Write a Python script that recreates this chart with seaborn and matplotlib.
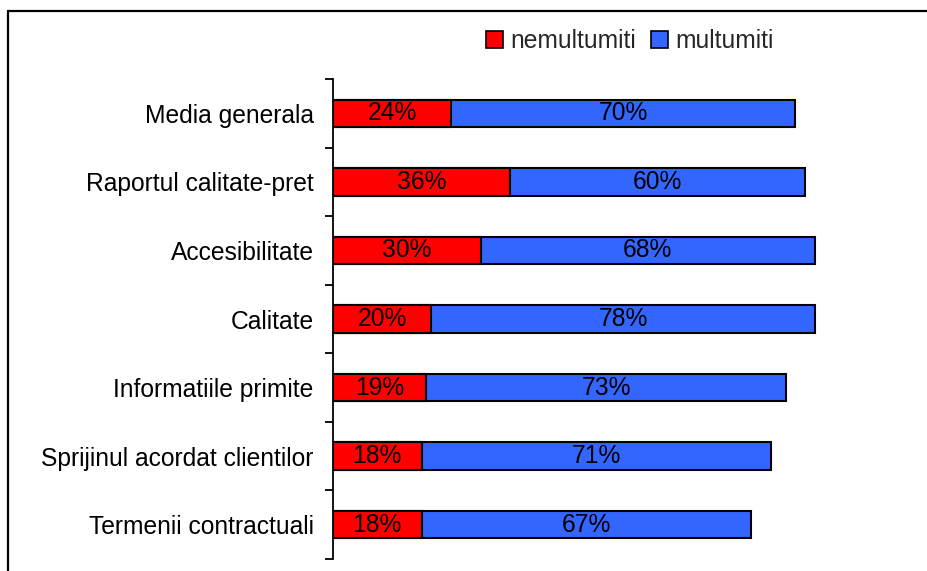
import matplotlib
matplotlib.use("Agg")
import matplotlib.pyplot as plt
import seaborn as sns
import pandas as pd
from matplotlib.lines import Line2D
from matplotlib.patches import Patch

categories = ["Media generala", "Raportul calitate-pret", "Accesibilitate", "Calitate",
              "Informatiile primite", "Sprijinul acordat clientilor", "Termenii contractuali"]
nemultumiti = [24, 36, 30, 20, 19, 18, 18]
multumiti = [70, 60, 68, 78, 73, 71, 67]

RED = "#FF0000"
BLUE = "#3366FF"
FS = 17.7

df = pd.DataFrame({"categorie": categories, "nemultumiti": nemultumiti, "multumiti": multumiti})
df["total"] = df["nemultumiti"] + df["multumiti"]

sns.set_style("white")
plt.rcParams["font.family"] = ["Liberation Sans", "DejaVu Sans"]

fig = plt.figure(figsize=(9.28, 5.71), dpi=100)
ax = fig.add_axes([333 / 928, 12 / 571, 492 / 928, 480 / 571])

# blue bar spans the total, red drawn over its first part
sns.barplot(data=df, y="categorie", x="total", color=BLUE, orient="h", width=0.4,
            edgecolor="black", linewidth=1.5, saturation=1, ax=ax)
sns.barplot(data=df, y="categorie", x="nemultumiti", color=RED, orient="h", width=0.4,
            edgecolor="black", linewidth=1.5, saturation=1, ax=ax)

for i, (r, b) in enumerate(zip(nemultumiti, multumiti)):
    ax.text(r / 2, i, f"{r}%", ha="center", va="center", fontsize=FS, color="black")
    ax.text(r + b / 2, i, f"{b}%", ha="center", va="center", fontsize=FS, color="black")

ax.set_xlim(0, 100)
ax.set_ylim(len(categories) - 0.5, -0.5)
ax.set_xlabel("")
ax.set_ylabel("")
ax.xaxis.set_visible(False)
for side in ["top", "right", "bottom"]:
    ax.spines[side].set_visible(False)
ax.spines["left"].set_linewidth(1.3)
ax.spines["left"].set_color("black")

ax.set_yticks([i - 0.5 for i in range(len(categories) + 1)], minor=True)
ax.tick_params(axis="y", which="minor", length=6, width=1.3, direction="out", color="black", left=True)
ax.tick_params(axis="y", which="major", length=0, pad=14, labelsize=FS, labelcolor="black")

handles = [Patch(facecolor=RED, edgecolor="black", linewidth=1.2, label="nemultumiti"),
           Patch(facecolor=BLUE, edgecolor="black", linewidth=1.2, label="multumiti")]
fig.legend(handles=handles, loc="center", bbox_to_anchor=(630 / 928, 1 - 41 / 571), ncol=2,
           frameon=False, fontsize=FS, handlelength=0.7, handleheight=0.7,
           handletextpad=0.3, columnspacing=0.6)

# outer frame (top and left edges visible in the reference)
fig.add_artist(Line2D([8.5 / 928, 1.0], [1 - 10.5 / 571, 1 - 10.5 / 571], color="black", linewidth=1.6,
                      transform=fig.transFigure))
fig.add_artist(Line2D([8.5 / 928, 8.5 / 928], [0.0, 1 - 10.5 / 571], color="black", linewidth=1.6,
                      transform=fig.transFigure))

plt.savefig("out.png", dpi=100)
plt.close()
